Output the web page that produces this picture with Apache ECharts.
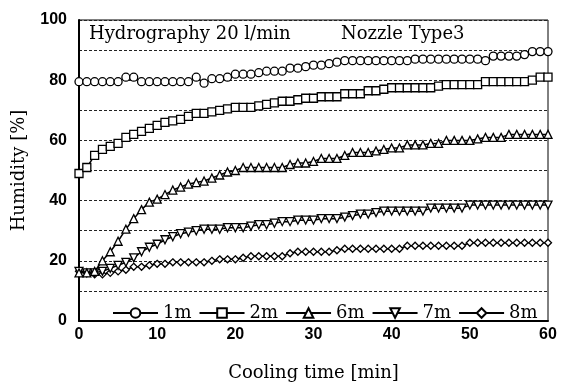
<!DOCTYPE html>
<html><head><meta charset="utf-8">
<script src="https://cdn.jsdelivr.net/npm/echarts@6/dist/echarts.min.js"></script>
<style>html,body{margin:0;padding:0;background:#fff}#c{width:562px;height:387px}</style>
</head><body><div id="c"></div>
<script>
var minutes = [0,1,2,3,4,5,6,7,8,9,10,11,12,13,14,15,16,17,18,19,20,21,22,23,24,25,26,27,28,29,30,31,32,33,34,35,36,37,38,39,40,41,42,43,44,45,46,47,48,49,50,51,52,53,54,55,56,57,58,59,60];
var seriesNames = ['1m','2m','6m','7m','8m'];
var hum1m = [79.5,79.5,79.5,79.5,79.5,79.5,81,81,79.5,79.5,79.5,79.5,79.5,79.5,79.5,
  81,79,80.5,80.5,81,82,82,82,82.5,83,83,83,84,84,84.5,85,85,85.5,86,
  86.5,86.5,86.5,86.5,86.5,86.5,86.5,86.5,86.5,
  87,87,87,87,87,87,87,87,87,86.5,88,88,88,88,88.5,89.5,89.5,89.5];
var hum2m = [49,51,55,57,58,59,61,62,63,64,65,66,66.5,67,68,69,69,69.5,70,70.5,71,71,71,71.5,72,72.5,73,73,73.5,74,74,74.5,74.5,74.5,75.5,75.5,75.5,76.5,76.5,77,
  77.5,77.5,77.5,77.5,77.5,77.5,78,78.5,78.5,78.5,78.5,78.5,79.5,79.5,79.5,79.5,79.5,79.5,80,81,81];
var hum6m = [16,16,16.5,20,23,26.5,30.5,34,37,39.5,40.5,42,43.5,44.5,45.5,46,46.5,47.5,48.5,49.5,50,
  51,51,51,51,51,51,52,52.5,52.5,53,54,54,54,55,56,56,56,56.5,57,57.5,57.5,58.5,58.5,58.5,59,59,60,60,60,60,60.5,61,61,61,62,62,62,62,62,62];
var hum7m = [16.5,16,16,16.5,17.5,18.5,19.5,21,23,24.5,25.5,27,28,29,29.5,30,30.5,30.5,30.5,31,31,31,31.5,32,32,32.5,33,33,33.5,33.5,33.5,34,34,34,34.5,35,35.5,35.5,36,
  36.5,36.5,36.5,36.5,36.5,36.5,37.5,37.5,37.5,37.5,37.5,38.5,38.5,38.5,38.5,38.5,38.5,38.5,38.5,38.5,38.5,38.5];
var hum8m = [16.5,16,15.5,15.5,16,16.5,17,18,18,18.5,19,19,19.5,19.5,19.5,19.5,19.5,20,20.5,20.5,20.5,21,21.5,21.5,21.5,21.5,21.5,22.5,23,23,23,23,23,23.5,
  24,24,24,24,24,24,24,24,25,25,25,25,25,25,25,25,26,26,26,26,26,26,26,26,26,26,26];
var titleLeft = 'Hydrography 20 l/min';
var titleRight = 'Nozzle Type3';
var xName = 'Cooling time [min]';
var yName = 'Humidity [%]';

function pairs(vals){ return minutes.map(function(t,i){ return [t, vals[i]]; }); }
var allVals = [hum1m, hum2m, hum6m, hum7m, hum8m];
var symbols = ['circle','rect','triangle','path://M0,0 L10,0 L5,10 Z','diamond'];
var sizes = [8,8,8,8,7];
var serif = "'DejaVu Serif','Liberation Serif',serif";
var narrow = "'Liberation Sans Narrow','Liberation Sans',sans-serif";

var chart = echarts.init(document.getElementById('c'), null, {renderer:'canvas'});
chart.setOption({
  animation:false,
  backgroundColor:'#fff',
  grid:{left:79, right:14, top:20, bottom:65, show:true, borderColor:'#000', borderWidth:1},
  title:[
    {text:titleLeft, left:84, top:20, textStyle:{fontFamily:serif, fontSize:18, fontWeight:'normal', color:'#000'}},
    {text:titleRight, left:336, top:20, textStyle:{fontFamily:serif, fontSize:18, fontWeight:'normal', color:'#000'}}
  ],
  legend:{
    data:seriesNames, left:112, top:304, padding:0, itemWidth:45, itemHeight:12, itemGap:7,
    textStyle:{fontFamily:serif, fontSize:18, color:'#000'}
  },
  xAxis:{
    type:'value', min:0, max:60, interval:10,
    name:xName, nameLocation:'middle', nameGap:43,
    nameTextStyle:{fontFamily:serif, fontSize:18, color:'#000'},
    axisLine:{lineStyle:{color:'#000', width:2}},
    axisTick:{show:false},
    axisLabel:{fontFamily:narrow, fontWeight:'bold', fontSize:16, color:'#000', margin:6},
    splitLine:{show:false}
  },
  yAxis:{
    type:'value', min:0, max:100, interval:10,
    name:yName, nameLocation:'middle', nameGap:51, nameRotate:90,
    nameTextStyle:{fontFamily:serif, fontSize:18, color:'#000'},
    axisLine:{lineStyle:{color:'#000', width:2}},
    axisTick:{show:false},
    axisLabel:{fontFamily:narrow, fontWeight:'bold', fontSize:16, color:'#000', margin:12,
      formatter:function(v){ return v % 20 === 0 ? String(v) : ''; }},
    splitLine:{show:true, lineStyle:{color:'#222', width:1, type:[3,2]}}
  },
  series: seriesNames.map(function(n,i){
    return {
      name:n, type:'line', data:pairs(allVals[i]),
      symbol:symbols[i], symbolSize:sizes[i], showAllSymbol:true,
      lineStyle:{color:'#000', width:1.5},
      itemStyle:{color:'#fff', borderColor:'#000', borderWidth:1.3},
      z: 10 - i
    };
  })
});
</script></body></html>
